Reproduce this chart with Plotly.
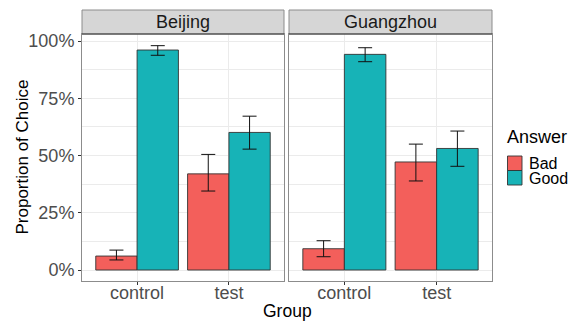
import plotly.graph_objects as go
from plotly.subplots import make_subplots

cities = ["Beijing", "Guangzhou"]
groups = ["control", "test"]
answers = ["Bad", "Good"]
colors = {"Bad": "#F35F5B", "Good": "#17B3B7"}

# proportion of choice per city -> answer -> [control, test]
prop = {
    "Beijing": {"Bad": [0.061, 0.420], "Good": [0.961, 0.601]},
    "Guangzhou": {"Bad": [0.093, 0.472], "Good": [0.942, 0.531]},
}
err_upper = {
    "Beijing": {"Bad": [0.087, 0.505], "Good": [0.980, 0.672]},
    "Guangzhou": {"Bad": [0.128, 0.550], "Good": [0.971, 0.607]},
}
err_lower = {
    "Beijing": {"Bad": [0.044, 0.345], "Good": [0.938, 0.528]},
    "Guangzhou": {"Bad": [0.058, 0.389], "Good": [0.910, 0.453]},
}
y_ticks = [0, 0.25, 0.5, 0.75, 1.0]
y_tick_labels = ["0%", "25%", "50%", "75%", "100%"]

W, H = 573, 321
L, R, T, B = 82, 492, 34, 281
pw, ph = R - L, B - T

def px_x(p):
    return (p - L) / pw

def px_y(p):
    return (B - p) / ph

fig = make_subplots(rows=1, cols=2, shared_yaxes=True, horizontal_spacing=0)

for ci, city in enumerate(cities):
    for a in answers:
        vals = prop[city][a]
        up = [u - v for u, v in zip(err_upper[city][a], vals)]
        lo = [v - l for l, v in zip(err_lower[city][a], vals)]
        fig.add_trace(
            go.Bar(
                x=groups, y=vals, name=a, showlegend=False,
                marker=dict(color=colors[a], line=dict(color="#333333", width=0.9)),
                error_y=dict(type="data", symmetric=False, array=up, arrayminus=lo,
                             color="#111111", thickness=1, width=7),
            ),
            row=1, col=ci + 1,
        )

domains = [[0, px_x(284)], [px_x(289), 1]]
grid = "#EBEBEB"
for i in range(2):
    xa = "xaxis" if i == 0 else "xaxis2"
    ya = "yaxis" if i == 0 else "yaxis2"
    fig.layout[xa].update(
        domain=domains[i], range=[-0.6, 1.6], type="category",
        showgrid=True, gridcolor=grid, gridwidth=1,
        showline=True, linecolor="#8C8C8C", linewidth=1, mirror=True,
        ticks="outside", ticklen=3, tickcolor="#333333",
        ticklabelstandoff=-8,
        tickfont=dict(size=18, color="#4D4D4D"), zeroline=False,
    )
    fig.layout[ya].update(
        range=[-0.048, 1.031], tickvals=y_ticks, ticktext=y_tick_labels,
        showgrid=True, gridcolor=grid, gridwidth=1,
        minor=dict(dtick=0.125, tick0=0.125, showgrid=True, gridcolor=grid, gridwidth=0.6),
        showline=True, linecolor="#8C8C8C", linewidth=1, mirror=True,
        ticks="outside" if i == 0 else "", ticklen=3, tickcolor="#333333",
        showticklabels=(i == 0),
        tickfont=dict(size=18, color="#4D4D4D"), zeroline=False,
    )

shapes = []
annotations = []
strip_top = px_y(10)
for i, city in enumerate(cities):
    d = domains[i]
    shapes.append(dict(type="rect", xref="paper", yref="paper", x0=d[0], x1=d[1],
                       y0=1, y1=strip_top, fillcolor="#D6D6D6",
                       line=dict(color="#8C8C8C", width=1), layer="above"))
    annotations.append(dict(text=city, xref="paper", yref="paper",
                            x=(d[0] + d[1]) / 2, y=(1 + strip_top) / 2,
                            showarrow=False, xanchor="center", yanchor="middle",
                            font=dict(size=18, color="#1A1A1A")))
    shapes.append(dict(type="line", xref="paper", yref="paper", x0=d[0], x1=d[1],
                       y0=1, y1=1, line=dict(color="#333333", width=1.2), layer="above"))

annotations.append(dict(text="Group", xref="paper", yref="paper", x=0.5, y=px_y(311),
                        showarrow=False, xanchor="center", yanchor="middle",
                        font=dict(size=17.5, color="#000000")))
annotations.append(dict(text="Proportion of Choice", xref="paper", yref="paper",
                        x=px_x(22), y=0.5, textangle=-90, showarrow=False,
                        xanchor="center", yanchor="middle",
                        font=dict(size=17, color="#000000")))

# legend
annotations.append(dict(text="Answer", xref="paper", yref="paper", x=px_x(505), y=px_y(137),
                        showarrow=False, xanchor="left", yanchor="middle",
                        font=dict(size=18, color="#000000")))
key_tops = [156, 170.5]
for a, kt in zip(answers, key_tops):
    shapes.append(dict(type="rect", xref="paper", yref="paper",
                       x0=px_x(507.5), x1=px_x(522), y0=px_y(kt), y1=px_y(kt + 14.5),
                       fillcolor=colors[a], line=dict(color="#333333", width=0.9)))
    annotations.append(dict(text=a, xref="paper", yref="paper", x=px_x(526.5),
                            y=px_y(kt + 7.5), showarrow=False, xanchor="left",
                            yanchor="middle", font=dict(size=16, color="#000000")))

fig.update_layout(
    width=W, height=H, margin=dict(l=L, r=W - R, t=T, b=H - B),
    barmode="group", bargap=0.1, bargroupgap=0,
    plot_bgcolor="white", paper_bgcolor="white",
    font=dict(family="Liberation Sans, Arial, sans-serif"),
    shapes=shapes, annotations=annotations, showlegend=False,
)

fig.write_html("out.html")
